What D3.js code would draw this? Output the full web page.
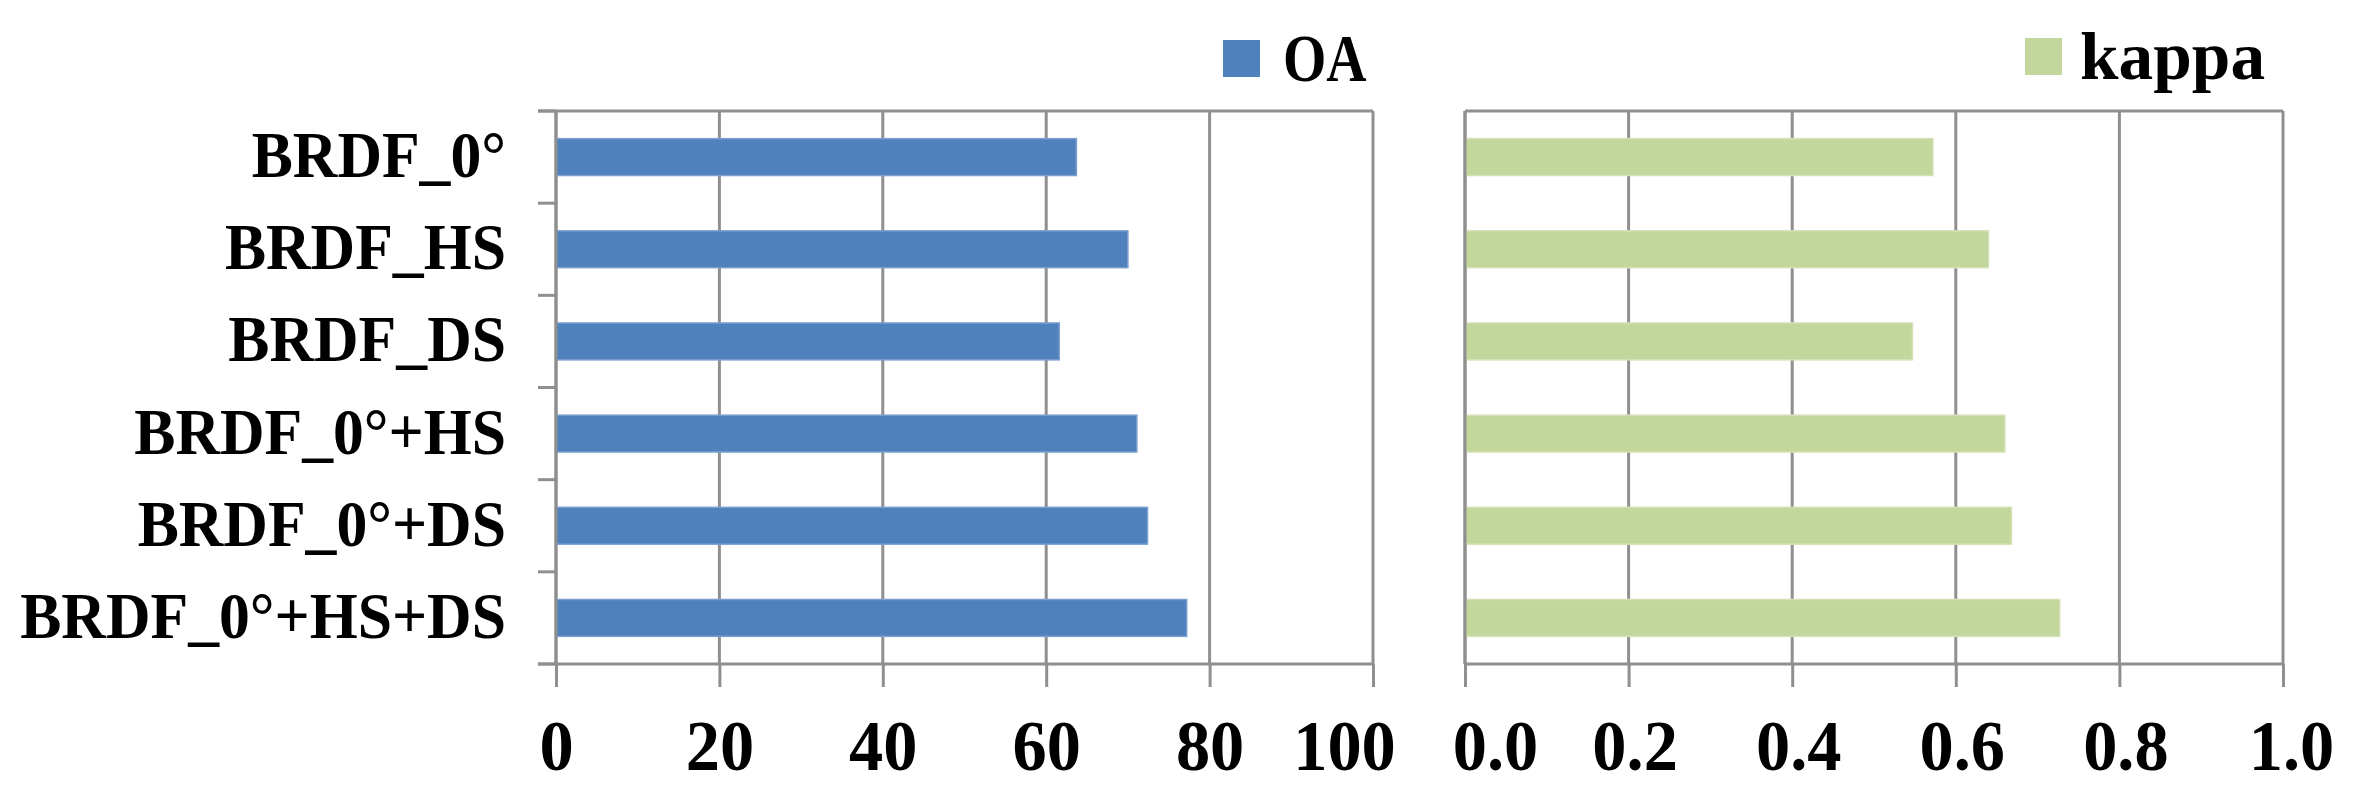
<!DOCTYPE html>
<html>
<head>
<meta charset="utf-8">
<script src="https://cdn.jsdelivr.net/npm/d3@7"></script>
<style>
    body { margin: 0; background: #fff; }
    svg { display: block; }
    text { font-family: "Liberation Serif", "Times New Roman", serif; font-weight: bold; fill: #000; }
</style>
</head>
<body>
<div id="chart"></div>
<script>

// data
const categories = ['BRDF_0°', 'BRDF_HS', 'BRDF_DS', 'BRDF_0°+HS', 'BRDF_0°+DS', 'BRDF_0°+HS+DS'];
const oaValues = [63.7, 70.0, 61.6, 71.1, 72.4, 77.2];
const kappaValues = [0.572, 0.640, 0.547, 0.660, 0.668, 0.727];
const oaTicks = [0, 20, 40, 60, 80, 100];
const kappaTicks = [0, 0.2, 0.4, 0.6, 0.8, 1.0];

const width = 2361, height = 810;
const plotTop = 111, plotBottom = 664;
const gridColor = '#8f8f8f';

const svg = d3.select('#chart').append('svg')
    .attr('width', width)
    .attr('height', height);

svg.append('rect').attr('width', width).attr('height', height).attr('fill', '#fff');

const y = d3.scaleBand()
    .domain(categories)
    .range([plotTop, plotBottom])
    .paddingInner(0.6)
    .paddingOuter(0.3);

function drawPanel(opt) {
    const x = d3.scaleLinear().domain([opt.ticks[0], opt.ticks[opt.ticks.length - 1]]).range([opt.x0, opt.x1]);
    const g = svg.append('g');

    // vertical gridlines (the last one is the right border)
    g.selectAll('.grid').data(opt.ticks)
        .enter().append('line')
        .attr('x1', d => x(d)).attr('x2', d => x(d))
        .attr('y1', plotTop).attr('y2', plotBottom)
        .attr('stroke', gridColor).attr('stroke-width', 3);

    // top border
    g.append('line')
        .attr('x1', opt.yTicks ? opt.x0 - 18 : opt.x0).attr('x2', opt.x1)
        .attr('y1', plotTop).attr('y2', plotTop)
        .attr('stroke', gridColor).attr('stroke-width', 3);

    // bars
    g.selectAll('.bar').data(opt.values)
        .enter().append('rect')
        .attr('x', x(0))
        .attr('y', (d, i) => y(categories[i]))
        .attr('width', d => x(d) - x(0))
        .attr('height', y.bandwidth())
        .attr('fill', opt.color)
        .attr('stroke', opt.edge)
        .attr('stroke-width', 1.5);

    // bottom axis
    const xAxis = d3.axisBottom(x)
        .tickValues(opt.ticks)
        .tickSize(23)
        .tickFormat(opt.format);
    const ax = g.append('g')
        .attr('transform', `translate(0, ${plotBottom})`)
        .call(xAxis);
    ax.select('.domain')
        .attr('d', `M${opt.yTicks ? opt.x0 - 18 : opt.x0},0H${opt.x1}`)
        .attr('stroke', gridColor).attr('stroke-width', 3);
    ax.selectAll('.tick line').attr('stroke', gridColor).attr('stroke-width', 3);
    ax.selectAll('.tick text')
        .attr('y', 0).attr('dy', 0)
        .attr('font-size', 72)
        .attr('fill', '#000')
        .attr('transform', (d, i) => `translate(${opt.nudge[i] || 0}, 106) scale(0.95,1)`);
    ax.attr('font-family', null).attr('font-size', null);

    // left axis line
    g.append('line')
        .attr('x1', opt.x0).attr('x2', opt.x0)
        .attr('y1', plotTop).attr('y2', plotBottom)
        .attr('stroke', gridColor).attr('stroke-width', 3);

    if (opt.yTicks) {
        // category boundary ticks
        const bounds = d3.range(categories.length + 1).map(i => plotTop + i * y.step());
        g.selectAll('.ytick').data(bounds)
            .enter().append('line')
            .attr('x1', opt.x0 - 18).attr('x2', opt.x0)
            .attr('y1', d => d).attr('y2', d => d)
            .attr('stroke', gridColor).attr('stroke-width', 3);

        g.selectAll('.ylabel').data(categories)
            .enter().append('text')
            .attr('transform', d => `translate(${opt.x0 - 50}, ${y(d) + y.bandwidth() / 2 + 20}) scale(0.935,1)`)
            .attr('text-anchor', 'end')
            .attr('font-size', 66)
            .text(d => d);
    }

    // legend
    g.append('rect')
        .attr('x', opt.legend.x).attr('y', opt.legend.y)
        .attr('width', 37).attr('height', 37)
        .attr('fill', opt.color);
    g.append('text')
        .attr('transform', `translate(${opt.legend.tx}, ${opt.legend.y + 41}) scale(${opt.legend.sx},1)`)
        .attr('font-size', 68)
        .text(opt.name);
}

drawPanel({
    name: 'OA', values: oaValues, ticks: oaTicks, format: d3.format('d'),
    x0: 556, x1: 1373, color: '#4f81bd', edge: '#7c9fcf', yTicks: true,
    nudge: [0, 0, 0, 0, 0, -29],
    legend: {x: 1223, y: 40, tx: 1283, sx: 0.82}
});

drawPanel({
    name: 'kappa', values: kappaValues, ticks: kappaTicks, format: d3.format('.1f'),
    x0: 1465, x1: 2283, color: '#c3d69b', edge: '#d3e1b7', yTicks: false,
    nudge: [30, 6, 6, 6, 6, 8],
    legend: {x: 2025, y: 38, tx: 2080, sx: 1.02}
});

</script>
</body>
</html>
